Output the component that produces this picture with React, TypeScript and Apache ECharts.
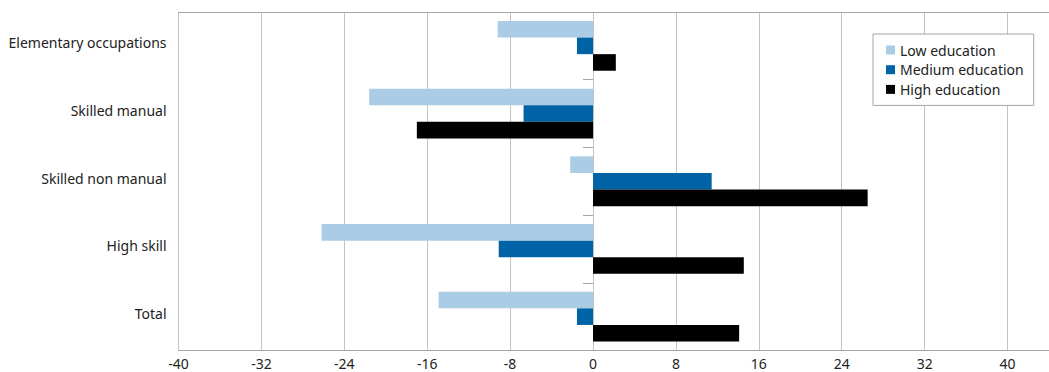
import React, { useEffect, useRef } from "react";
import * as echarts from "echarts";

const categories = [
  "Elementary occupations",
  "Skilled manual",
  "Skilled non manual",
  "High skill",
  "Total",
];
const seriesNames = ["Low education", "Medium education", "High education"];
const lowEducation = [-9.2, -21.6, -2.2, -26.2, -14.9];
const mediumEducation = [-1.55, -6.7, 11.45, -9.1, -1.55];
const highEducation = [2.2, -17.0, 26.5, 14.55, 14.1];
const seriesColors = ["#AACCE4", "#0063A6", "#000000"];

const FONT = "'Noto Sans', sans-serif";

export default function App() {
  const ref = useRef<HTMLDivElement>(null);
  useEffect(() => {
    if (!ref.current) return;
    const chart = echarts.init(ref.current, undefined, { renderer: "svg" });
    const values = [lowEducation, mediumEducation, highEducation];
    chart.setOption({
      animation: false,
      textStyle: { fontFamily: FONT },
      grid: { left: 178.5, right: 11, top: 12, bottom: 21.5, containLabel: false },
      legend: {
        orient: "vertical",
        left: 873,
        top: 34,
        data: seriesNames,
        icon: "rect",
        itemWidth: 9,
        itemHeight: 9,
        itemGap: 5.7,
        itemTextGap: 9,
        padding: [9, 10, 9, 13],
        borderColor: "#A6A6A6",
        borderWidth: 1,
        backgroundColor: "#fff",
        textStyle: { fontFamily: FONT, fontSize: 14, color: "#222", lineHeight: 14 },
      },
      xAxis: [
        {
          type: "value",
          min: -40,
          max: 44,
          interval: 8,
          axisLine: { show: true, onZero: false, lineStyle: { color: "#A6A6A6", width: 1 } },
          axisTick: { show: false },
          splitLine: { show: true, lineStyle: { color: "#C4C4C4", width: 1 } },
          axisLabel: {
            fontFamily: FONT,
            fontSize: 14,
            color: "#222",
            margin: 6,
            formatter: (v: number) => (v > 40 ? "" : String(v)),
          },
        },
        {
          type: "value",
          position: "top",
          min: -40,
          max: 44,
          interval: 8,
          axisLine: { show: true, onZero: false, lineStyle: { color: "#A6A6A6", width: 1 } },
          axisTick: { show: false },
          splitLine: { show: false },
          axisLabel: { show: false },
        },
      ],
      yAxis: [
        {
          type: "category",
          inverse: true,
          data: categories,
          axisLine: { show: false, onZero: false },
          axisTick: { show: false },
          axisLabel: {
            fontFamily: FONT,
            fontSize: 14,
            color: "#222",
            margin: 12,
            formatter: (v: string) => "{a|" + v + "}",
            rich: {
              a: {
                fontFamily: FONT,
                fontSize: 14,
                color: "#222",
                padding: [0, 0, 6, 0],
              },
            },
          },
        },
        {
          type: "category",
          inverse: true,
          position: "left",
          data: categories,
          axisLine: { show: true, onZero: true, lineStyle: { color: "#C4C4C4", width: 1 } },
          axisTick: { show: true, length: 10, lineStyle: { color: "#A6A6A6", width: 1 } },
          axisLabel: { show: false },
          splitLine: { show: false },
        },
      ],
      series: seriesNames.map((name, i) => ({
        name,
        type: "bar",
        xAxisIndex: 0,
        yAxisIndex: 0,
        data: values[i],
        barWidth: 16.6,
        barGap: "0%",
        itemStyle: { color: seriesColors[i] },
      })),
    });
    return () => chart.dispose();
  }, []);
  return (
    <div
      style={{
        position: "fixed",
        left: 0,
        top: 0,
        width: 1049,
        height: 372,
        overflow: "hidden",
        background: "#fff",
      }}
    >
      <div ref={ref} style={{ width: 1060, height: 372 }} />
    </div>
  );
}
